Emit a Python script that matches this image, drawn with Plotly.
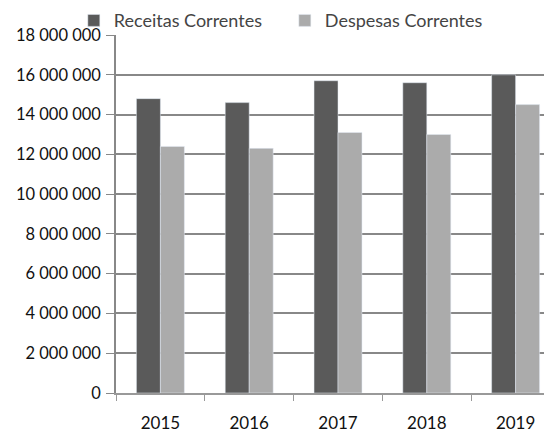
import plotly.graph_objects as go

anos = ["2015", "2016", "2017", "2018", "2019"]
receitas = [14800000, 14600000, 15700000, 15600000, 16000000]
despesas = [12400000, 12300000, 13100000, 13000000, 14500000]

fig = go.Figure()
fig.add_trace(go.Bar(x=anos, y=receitas, name="Receitas Correntes", marker_color="#5a5a5a"))
fig.add_trace(go.Bar(x=anos, y=despesas, name="Despesas Correntes", marker_color="#ababab"))

fig.update_layout(
    width=552, height=446,
    margin=dict(l=108, r=0, t=27, b=61, autoexpand=False),
    separators=", ",
    font=dict(family="Lato", size=16, color="#111"),
    paper_bgcolor="white", plot_bgcolor="white",
    barmode="group", bargap=0.46, bargroupgap=0,
    legend=dict(orientation="h", x=-0.095, y=1.04, xanchor="left", yanchor="middle",
                font=dict(size=18, color="#444"), traceorder="normal",
                bgcolor="rgba(0,0,0,0)",
                entrywidth=166, itemwidth=30),
)
fig.update_yaxes(range=[0, 18000000], dtick=2000000, tickformat=",d",
                 tickfont=dict(size=16.5),
                 showgrid=True, gridcolor="#888", gridwidth=1.5,
                 showline=True, linecolor="#888", linewidth=1.5,
                 ticks="outside", tickcolor="#888", ticklen=8, ticklabelstandoff=2)
fig.update_xaxes(showline=True, linecolor="#999", linewidth=1.5,
                 tickfont=dict(size=17),
                 ticks="outside", tickson="boundaries", tickcolor="#999", ticklen=6,
                 ticklabelstandoff=14)

fig.write_html("out.html")
